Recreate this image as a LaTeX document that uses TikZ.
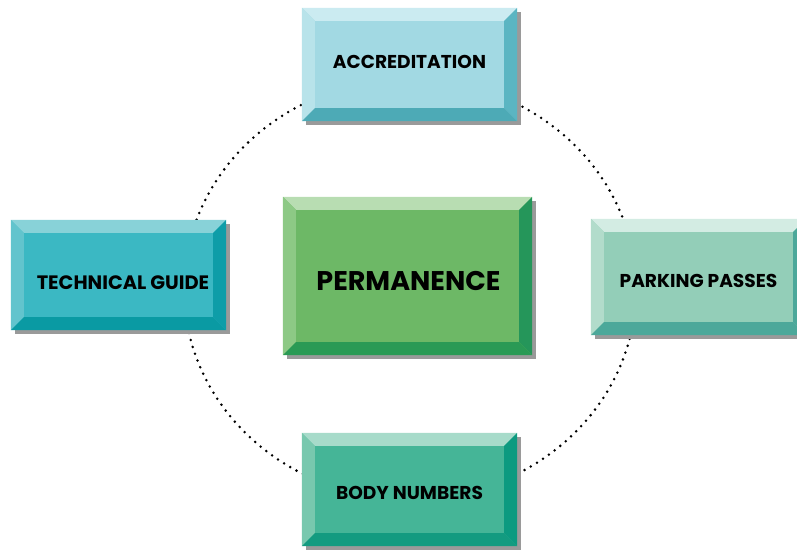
\documentclass[tikz,border=0pt]{standalone}
\usepackage{fontspec}
\setmainfont{Poppins}
\usetikzlibrary{shadows}

\definecolor{shadowgray}{HTML}{9A9A9A}
\definecolor{accFace}{HTML}{A2D9E3}
\definecolor{accTop}{HTML}{CBEBF1}
\definecolor{accLeft}{HTML}{B8E3EA}
\definecolor{accRight}{HTML}{5BB5C2}
\definecolor{accBot}{HTML}{4DAAB6}
\definecolor{techFace}{HTML}{3BB8C3}
\definecolor{techTop}{HTML}{88D2D8}
\definecolor{techLeft}{HTML}{62C4CD}
\definecolor{techRight}{HTML}{0E9DA8}
\definecolor{techBot}{HTML}{0A9AA3}
\definecolor{permFace}{HTML}{6DB866}
\definecolor{permTop}{HTML}{B8DDB2}
\definecolor{permLeft}{HTML}{8DC985}
\definecolor{permRight}{HTML}{25965A}
\definecolor{permBot}{HTML}{2A9A55}
\definecolor{parkFace}{HTML}{93CEB8}
\definecolor{parkTop}{HTML}{D3ECE3}
\definecolor{parkLeft}{HTML}{B2DCCB}
\definecolor{parkRight}{HTML}{4CA89A}
\definecolor{parkBot}{HTML}{4CA89A}
\definecolor{bodyFace}{HTML}{45B597}
\definecolor{bodyTop}{HTML}{A7DBCA}
\definecolor{bodyLeft}{HTML}{78C8AE}
\definecolor{bodyRight}{HTML}{0C9A80}
\definecolor{bodyBot}{HTML}{139B80}

\tikzset{
  bevelbox/.style={rectangle, inner sep=0pt, fill=#1,
    drop shadow={fill=shadowgray, opacity=1, shadow xshift=4pt, shadow yshift=-4pt}},
  boxtext/.style={font=\bfseries\fontsize{18.6}{22}\selectfont, text=black},
  ringline/.style={line width=2.8pt, line cap=round, dash pattern=on 0pt off 7.2pt},
}

\begin{document}
\begin{tikzpicture}[x=1pt,y=-1pt]
\useasboundingbox (0,0) rectangle (797,549);

% dotted ring behind the boxes
\coordinate (hub) at (410,289);
\draw[ringline] (hub) ellipse [x radius=226, y radius=210];

\node[bevelbox=accFace, minimum width=215pt, minimum height=113pt] (acc) at (409.5,64.5) {};
\node[bevelbox=techFace, minimum width=215pt, minimum height=110pt] (tech) at (118.5,275) {};
\node[bevelbox=permFace, minimum width=249pt, minimum height=158pt] (perm) at (407.5,276) {};
\node[bevelbox=parkFace, minimum width=215pt, minimum height=116pt] (park) at (698.5,277) {};
\node[bevelbox=bodyFace, minimum width=215pt, minimum height=113pt] (body) at (409.5,489.5) {};

% bevelled edges
\foreach \n/\ct/\cl/\cr/\cb in {acc/accTop/accLeft/accRight/accBot,
    tech/techTop/techLeft/techRight/techBot,
    perm/permTop/permLeft/permRight/permBot,
    park/parkTop/parkLeft/parkRight/parkBot,
    body/bodyTop/bodyLeft/bodyRight/bodyBot} {
  \fill[\ct] (\n.north west) -- (\n.north east) -- ([shift={(-13,13)}]\n.north east) -- ([shift={(13,13)}]\n.north west) -- cycle;
  \fill[\cl] (\n.north west) -- ([shift={(13,13)}]\n.north west) -- ([shift={(13,-13)}]\n.south west) -- (\n.south west) -- cycle;
  \fill[\cr] (\n.north east) -- (\n.south east) -- ([shift={(-13,-13)}]\n.south east) -- ([shift={(-13,13)}]\n.north east) -- cycle;
  \fill[\cb] (\n.south west) -- (\n.south east) -- ([shift={(-13,-13)}]\n.south east) -- ([shift={(13,-13)}]\n.south west) -- cycle;
}

\node[boxtext] (accT) at ([yshift=2.5pt]acc.center) {ACCREDITATION};
\node[boxtext, font=\bfseries\fontsize{19.4}{23}\selectfont] (techT) at ([xshift=4.5pt,yshift=-7.5pt]tech.center) {TECHNICAL GUIDE};
\node[boxtext, font=\bfseries\fontsize{27}{31}\selectfont] (permT) at ([xshift=1pt,yshift=-5pt]perm.center) {PERMANENCE};
\node[boxtext] (parkT) at ([yshift=-4pt]park.center) {PARKING PASSES};
\node[boxtext] (bodyT) at ([yshift=-3.5pt]body.center) {BODY NUMBERS};

\end{tikzpicture}
\end{document}
